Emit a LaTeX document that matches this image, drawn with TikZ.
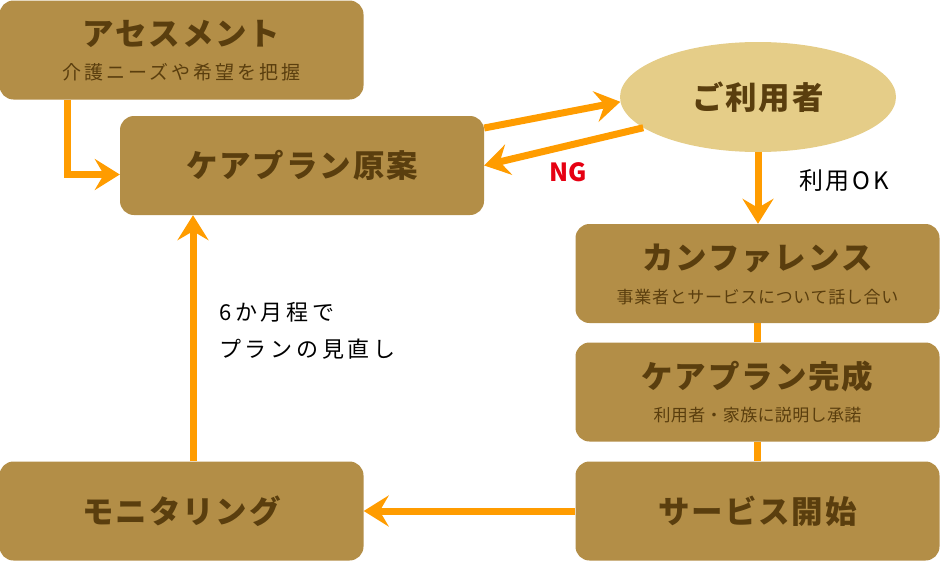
\documentclass[tikz,border=0pt]{standalone}
\usepackage{fontspec}
\setmainfont{Noto Sans CJK JP}
\usetikzlibrary{arrows.meta}
\definecolor{boxfill}{HTML}{B38E47}
\definecolor{boxtext}{HTML}{5A3E0E}
\definecolor{ellfill}{HTML}{E5CD88}
\definecolor{conncol}{HTML}{FF9C00}
\definecolor{ngred}{HTML}{E60012}
\tikzset{
  box/.style={draw=none, fill=boxfill, rounded corners=14pt, minimum width=364pt, minimum height=99pt, inner sep=0pt},
  ell/.style={ellipse, fill=ellfill, minimum width=276pt, minimum height=110pt, inner sep=0pt},
  title/.style={text=boxtext, font=\bfseries\fontsize{31.5}{31.5}\selectfont\addfontfeature{LetterSpace=6}, inner sep=0pt},
  subt/.style={text=boxtext, font=\fontsize{17}{17}\selectfont\addfontfeature{LetterSpace=4}, inner sep=0pt},
  conn/.style={draw=conncol, line width=7pt},
  arr/.style={conn, -{Stealth[length=25pt, width=31pt, inset=9pt]}},
  lbl/.style={text=black, font=\fontsize{22}{37}\selectfont\addfontfeature{LetterSpace=17}, inner sep=0pt},
}
\usetikzlibrary{shapes.geometric}
\begin{document}
\begin{tikzpicture}[x=1pt, y=-1pt]
\useasboundingbox (0,0) rectangle (940,562);
% boxes
\node[box] (assess) at (181.5,50) {};
\node[title] (assessT) at (181.5,34) {アセスメント};
\node[subt, font=\fontsize{19}{19}\selectfont\addfontfeature{LetterSpace=16}] (assessS) at (181.5,72) {介護ニーズや希望を把握};

\node[box] (draft) at (302,165.5) {};
\node[title] (draftT) at (302,165) {ケアプラン原案};

\node[ell] (user) at (758,97) {};
\node[title] (userT) at (758,97) {ご利用者};

\node[box] (conf) at (757.5,273.5) {};
\node[title] (confT) at (757.5,258) {カンファレンス};
\node[subt] (confS) at (757.5,297) {事業者とサービスについて話し合い};

\node[box] (done) at (757.5,392) {};
\node[title] (doneT) at (757.5,376) {ケアプラン完成};
\node[subt, font=\fontsize{17}{17}\selectfont\addfontfeature{LetterSpace=2}] (doneS) at (757.5,415) {利用者・家族に説明し承諾};

\node[box] (start) at (757.5,511) {};
\node[title] (startT) at (757.5,511) {サービス開始};

\node[box] (mon) at (181.5,511) {};
\node[title] (monT) at (181.5,511) {モニタリング};

% labels
\node[text=ngred, font=\bfseries\fontsize{25}{25}\selectfont, inner sep=0pt] (ng) at (568,172) {NG};
\node[lbl, font=\fontsize{24}{24}\selectfont\addfontfeature{LetterSpace=12}] (ok) at (844,181) {利用OK};
\node[lbl, anchor=west, align=left] (review) at (219,331) {6か月程で\\プランの見直し};

% connectors
\coordinate (vx) at (193,0);
\coordinate (ax) at (67,0);
\draw[arr] (assess.south -| ax) |- ([yshift=-9pt]draft.west);
\draw[arr] ([yshift=37.5pt]draft.east) -- (user.182);
\draw[arr] (user.195) -- (draft.east);
\draw[arr] (user.south) -- ([xshift=0.5pt]conf.north);
\draw[conn] (conf.south) -- (done.north);
\draw[conn] (done.south) -- (start.north);
\draw[arr] (start.west) -- (mon.east);
\draw[arr] (mon.north -| vx) -- (draft.south -| vx);
\end{tikzpicture}
\end{document}
